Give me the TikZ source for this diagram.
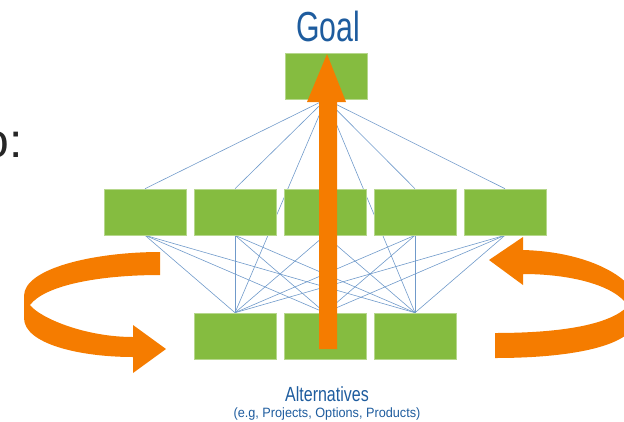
\documentclass[tikz,border=0pt]{standalone}
\usepackage{fontspec}
\setmainfont{Liberation Sans}
\newfontfamily\goalfont[FakeStretch=0.72]{Liberation Sans}
\newfontfamily\altfont[FakeStretch=0.78]{Liberation Sans}
\newfontfamily\altsmallfont[FakeStretch=0.94]{Liberation Sans}
\usetikzlibrary{backgrounds}
\definecolor{boxgreen}{RGB}{133,188,64}
\definecolor{arrorange}{RGB}{245,124,0}
\definecolor{linkblue}{RGB}{112,154,202}
\definecolor{titleblue}{RGB}{30,92,158}

\tikzset{
  Box/.style   = {fill=boxgreen, draw=boxgreen!60!white, line width=0.6pt,
                  minimum width=82pt, minimum height=46pt, inner sep=0pt},
  Link/.style  = {draw=linkblue, line width=0.6pt},
  Ribbon/.style = {fill=arrorange}
}

\begin{document}
\begin{tikzpicture}[x=1pt,y=-1pt]
   \useasboundingbox (0,0) rectangle (624,421);
   \clip (0,0) rectangle (624,421);
   \node[Box] (G) at (326,76) {};
   \foreach \n/\x in {1/145,2/235,3/325,4/415,5/505}
      \node[Box] (C\n) at (\x,212) {};
   \foreach \n/\x in {1/235,2/325,3/415}
      \node[Box] (A\n) at (\x,336) {};
   \node[anchor=base, text=titleblue, font=\goalfont\fontsize{42}{42}\selectfont,
         inner sep=0pt] (goaltxt) at (328,41) {Goal};
   \node[anchor=base, text=titleblue, font=\altfont\fontsize{20.5}{20.5}\selectfont,
         inner sep=0pt] (alttxt) at (327,401) {Alternatives};
   \node[anchor=base, text=titleblue, font=\altsmallfont\fontsize{13.5}{13.5}\selectfont,
         inner sep=0pt] (altsub) at (327,417) {(e.g, Projects, Options, Products)};
   \node[anchor=base east, text=black!85, font=\fontsize{48}{48}\selectfont,
         inner sep=0pt] (cuttxt) at (23,157) {o:};
   \begin{scope}[on background layer]
      \foreach \i in {1,...,5} {
         \draw[Link] (G.south) -- (C\i.north);
         \foreach \j in {1,2,3}
            \draw[Link] (C\i.south) -- (A\j.north);
      }
      \foreach \j in {1,2,3}
         \draw[Link] (G.south) -- (A\j.north);
   \end{scope}
   \fill[Ribbon] (319,349) -- (319,102) -- (307,102) -- (327,54) -- (346,102)
      -- (337,102) -- (337,349) -- cycle;
   \fill[Ribbon] (160,252) .. controls (95,252) and (24,268) .. (24,296)
      -- (24,318) .. controls (24,344) and (80,357) .. (133,357)
      -- (133,373) -- (166,349) -- (133,325) -- (133,337)
      .. controls (85,337) and (40,318) .. (30,305)
      .. controls (45,285) and (100,275) .. (160,275) -- cycle;
   \fill[Ribbon] (495,333) -- (495,358) .. controls (575,358) and (636,345) .. (636,318)
      -- (636,300) .. controls (636,282) and (595,252) .. (523,250)
      -- (523,237) -- (489,260) -- (523,285) -- (523,274)
      .. controls (570,274) and (615,285) .. (628,306)
      .. controls (610,325) and (560,333) .. (495,333) -- cycle;
\end{tikzpicture}
\end{document}
